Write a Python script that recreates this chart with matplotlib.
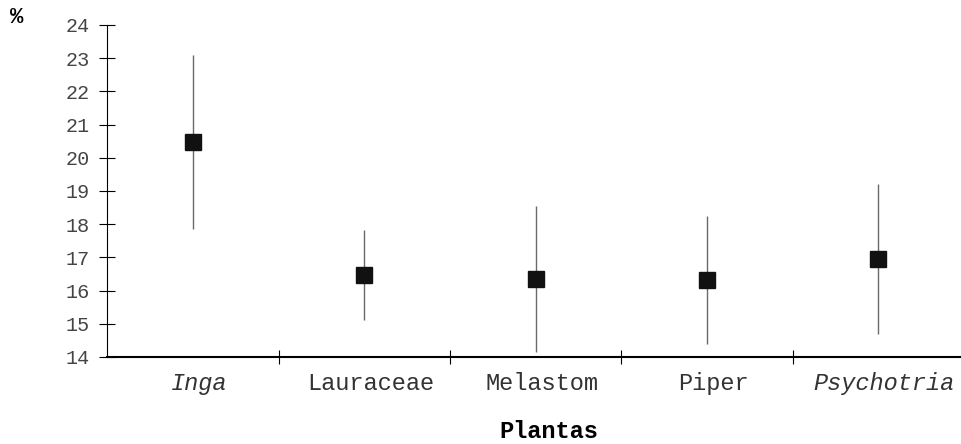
import numpy as np
import matplotlib.pyplot as plt
from matplotlib.ticker import FixedLocator
from matplotlib.transforms import ScaledTranslation

plantas = ["Inga", "Lauraceae", "Melastom", "Piper", "Psychotria"]
italica = [True, False, False, False, True]
media = [20.49, 16.47, 16.35, 16.33, 16.95]
erro = [2.62, 1.36, 2.2, 1.93, 2.26]
yticks = list(range(14, 25))

fig = plt.figure(figsize=(9.61, 4.44), dpi=100)
ax = fig.add_axes([0.1117, 0.196, 0.8915, 0.7477])

x = np.arange(1, len(plantas) + 1)
ax.errorbar(x, media, yerr=erro, fmt="none", ecolor="#6a6a6a", elinewidth=1.0, capsize=0)
ax.plot(x, media, "s", color="#111111", markersize=11.5, linestyle="none")

ax.set_xlim(0.5, 5.5)
ax.set_ylim(14, 24)

ax.spines["top"].set_visible(False)
ax.spines["right"].set_visible(False)
ax.spines["left"].set_linewidth(0.8)
ax.spines["bottom"].set_linewidth(1.5)

mono = "Liberation Mono"
ax.set_yticks(yticks)
ax.set_yticklabels([str(t) for t in yticks], family=mono, fontsize=14.5, color="#444444")
ax.tick_params(axis="y", direction="inout", length=11, width=0.8, pad=7)

# ticks at category boundaries, labels at centres
ax.xaxis.set_major_locator(FixedLocator(x[:-1] + 0.5))
ax.xaxis.set_major_formatter(plt.NullFormatter())
ax.xaxis.set_minor_locator(FixedLocator(x))
ax.set_xticklabels(plantas, minor=True)
ax.tick_params(axis="x", which="major", direction="inout", length=10, width=0.8)
ax.tick_params(axis="x", which="minor", length=0, pad=11)
shift = ScaledTranslation(6 / 100, 0, fig.dpi_scale_trans)
for lab, it in zip(ax.xaxis.get_minorticklabels(), italica):
    lab.set_family(mono)
    lab.set_fontsize(17)
    lab.set_style("italic" if it else "normal")
    lab.set_color("#333333")
    lab.set_transform(lab.get_transform() + shift)

ax.set_xlabel("Plantas", family=mono, fontsize=17, fontweight="bold")
ax.xaxis.set_label_coords(0.515, -0.19)
fig.text(0.0177, 0.96, "%", family=mono, fontsize=16, fontweight="bold", ha="center", va="center")

fig.savefig("out.png", dpi=100)
